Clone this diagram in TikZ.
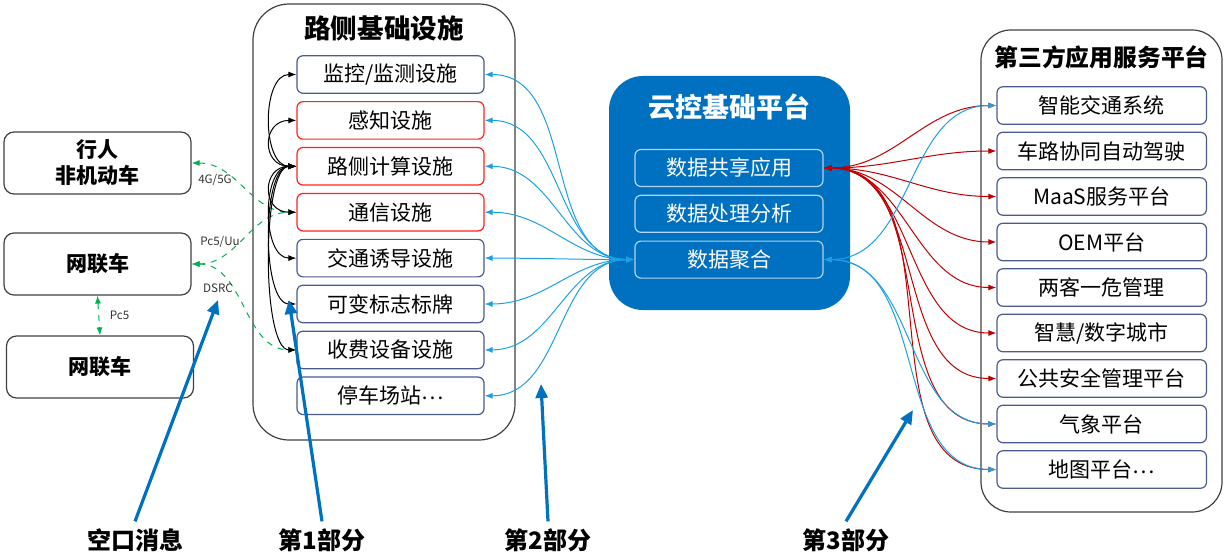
\documentclass[tikz,border=0pt]{standalone}
\usepackage{fontspec}
\setmainfont{Noto Sans CJK SC}
\usepackage{tikz}
\usetikzlibrary{arrows.meta, positioning}
\definecolor{ccBlue}{HTML}{0070C0}
\definecolor{ccCyan}{HTML}{1BA1E2}
\definecolor{ccRed}{HTML}{C00000}
\definecolor{ccGreen}{HTML}{00B050}
\definecolor{ccNavy}{HTML}{4A5B8C}
\definecolor{ccAlert}{HTML}{FF2020}

\begin{document}
\begin{tikzpicture}[
  x=0.5pt, y=-0.5pt,
  grp/.style={draw=black!75, line width=0.6pt, rounded corners=#1, inner sep=0pt},
  ttl/.style={font=\fontsize{#1}{#1}\selectfont\bfseries},
  term/.style={draw=black!75, line width=0.6pt, rounded corners=5pt, minimum width=93.5pt,
               minimum height=31pt, align=center, inner sep=0pt,
               font=\fontsize{10.5}{13}\selectfont\bfseries},
  item/.style={draw=#1, line width=0.6pt, rounded corners=3pt, fill=white, inner sep=0pt,
               minimum width=93.5pt, minimum height=18.75pt, font=\fontsize{10.5}{12}\selectfont},
  app/.style={item=ccNavy, minimum width=104.75pt},
  data/.style={draw=white!70!ccBlue, line width=0.6pt, rounded corners=3pt, inner sep=0pt,
               minimum width=94pt, minimum height=18.5pt, text=white,
               font=\fontsize{10.5}{12}\selectfont},
  tag/.style={font=\fontsize{5.8}{6}\selectfont, text=black!80},
  note/.style={font=\fontsize{12}{12}\selectfont\bfseries},
  air/.style={<->, >={Latex[length=4pt,width=3pt]}, draw=ccGreen, dashed, line width=0.5pt},
  ctl/.style={<->, >={Latex[length=4pt,width=3pt]}, draw=black, line width=0.5pt},
  up/.style={<->, >={Latex[length=4pt,width=3pt]}, draw=ccCyan, line width=0.5pt},
  down/.style={<->, >={Latex[length=4pt,width=3pt]}, draw=ccRed, line width=0.5pt},
  hint/.style={-{Triangle[length=7pt,width=6pt]}, draw=ccBlue, line width=1.6pt},
]
  \useasboundingbox (0,0) rectangle (1226,556);

  % left: terminals
  \node[term] (ped) at (97.5,163) {行人\\非机动车};
  \node[term] (cv1) at (97.5,264) {网联车};
  \node[term] (cv2) at (100,367) {网联车};

  % roadside infrastructure
  \node[grp=18pt, minimum width=131pt, minimum height=218pt] (road) at (384,222) {};
  \node[ttl=13.3] (roadtitle) at (384,28) {路侧基础设施};
  \node[item=ccNavy] (jk) at (390.5,74.5) {监控/监测设施};
  \node[item=ccAlert, below=3.6pt of jk] (gz) {感知设施};
  \node[item=ccAlert, below=3.6pt of gz] (js) {路侧计算设施};
  \node[item=ccAlert, below=3.6pt of js] (tx) {通信设施};
  \node[item=ccNavy, below=3.6pt of tx] (yd) {交通诱导设施};
  \node[item=ccNavy, below=3.6pt of yd] (kb) {可变标志标牌};
  \node[item=ccNavy, below=3.6pt of kb] (sf) {收费设备设施};
  \node[item=ccNavy, below=3.6pt of sf] (tc) {停车场站\raisebox{0.35ex}{…}};

  % cloud control platform
  \node[draw=none, fill=ccBlue, rounded corners=17pt, minimum width=120.5pt,
        minimum height=117pt] (cloud) at (729.5,193) {};
  \node[ttl=13.5, text=white] (cloudtitle) at (729.5,107) {云控基础平台};
  \node[data] (share) at (729,168) {数据共享应用};
  \node[data, below=3.8pt of share] (proc) {数据处理分析};
  \node[data, below=3.8pt of proc] (agg) {数据聚合};

  % third-party platforms
  \node[grp=15pt, minimum width=120.5pt, minimum height=241pt] (third) at (1101.5,271) {};
  \node[ttl=11.9] (thirdtitle) at (1101.5,57) {第三方应用服务平台};
  \node[app] (its) at (1101.75,105.5) {智能交通系统};
  \node[app, below=3.4pt of its] (cav) {车路协同自动驾驶};
  \node[app, below=3.4pt of cav] (maas) {MaaS服务平台};
  \node[app, below=3.4pt of maas] (oem) {OEM平台};
  \node[app, below=3.4pt of oem] (lkyw) {两客一危管理};
  \node[app, below=3.4pt of lkyw] (city) {智慧/数字城市};
  \node[app, below=3.4pt of city] (safe) {公共安全管理平台};
  \node[app, below=3.4pt of safe] (qx) {气象平台};
  \node[app, below=3.4pt of qx] (map) {地图平台\raisebox{0.35ex}{…}};

  % air interface
  \draw[air] (cv1.south) -- (cv2.north) node[tag, midway, right=2pt] {Pc5};
  \draw[air] (ped.east) to[out=0, in=180] (tx.west);
  \draw[air] (cv1.east) to[out=0, in=180] (tx.west);
  \draw[air] (cv1.east) to[out=0, in=180] (sf.west);
  \node[tag] (lte) at (215,180) {4G/5G};
  \node[tag] (uu) at (220,242) {Pc5/Uu};
  \node[tag] (dsrc) at (218,288) {DSRC};

  % roadside computing
  \draw[ctl] (js.west) .. controls +(-35,0) and +(-35,0) .. (jk.west);
  \draw[ctl] (js.west) .. controls +(-35,0) and +(-35,0) .. (gz.west);
  \draw[ctl] (js.west) .. controls +(-35,0) and +(-35,0) .. (tx.west);
  \draw[ctl] (js.west) .. controls +(-35,0) and +(-35,0) .. (yd.west);
  \draw[ctl] (js.west) .. controls +(-35,0) and +(-35,0) .. (kb.west);
  \draw[ctl] (js.west) .. controls +(-35,0) and +(-35,0) .. (sf.west);

  % roadside <-> cloud
  \draw[up] (agg.west) to[out=180, in=0] (jk.east);
  \draw[up] (agg.west) to[out=180, in=0] (gz.east);
  \draw[up] (agg.west) to[out=180, in=0] (js.east);
  \draw[up] (agg.west) to[out=180, in=0] (tx.east);
  \draw[up] (agg.west) to[out=180, in=0] (yd.east);
  \draw[up] (agg.west) to[out=180, in=0] (kb.east);
  \draw[up] (agg.west) to[out=180, in=0] (sf.east);
  \draw[up] (agg.west) to[out=180, in=0] (tc.east);

  % cloud <-> third party
  \draw[down] (share.east) to[out=0, in=180] (its.west);
  \draw[down] (share.east) to[out=0, in=180] (cav.west);
  \draw[down] (share.east) to[out=0, in=180] (maas.west);
  \draw[down] (share.east) to[out=0, in=180] (oem.west);
  \draw[down] (share.east) to[out=0, in=180] (lkyw.west);
  \draw[down] (share.east) to[out=0, in=180] (city.west);
  \draw[down] (share.east) to[out=0, in=180] (safe.west);
  \draw[down] (share.east) to[out=0, in=180] (qx.west);
  \draw[down] (share.east) to[out=0, in=180] (map.west);
  \draw[up] (agg.east) to[out=0, in=180] (its.west);
  \draw[up] (agg.east) to[out=0, in=180] (qx.west);
  \draw[up] (agg.east) to[out=0, in=180] (map.west);

  % parts
  \node[note] (part0) at (135,540) {空口消息};
  \node[note] (part1) at (322,540) {第1部分};
  \node[note] (part2) at (548,540) {第2部分};
  \node[note] (part3) at (846,540) {第3部分};
  \coordinate (tip0) at (218,300);
  \coordinate (tip1) at (289,300);
  \coordinate (tip2) at (541,384);
  \coordinate (tip3) at (913,410);
  \draw[hint] (part0.north) -- (tip0);
  \draw[hint] (part1.north) -- (tip1);
  \draw[hint] (part2.north) -- (tip2);
  \draw[hint] (part3.north) -- (tip3);
\end{tikzpicture}
\end{document}
